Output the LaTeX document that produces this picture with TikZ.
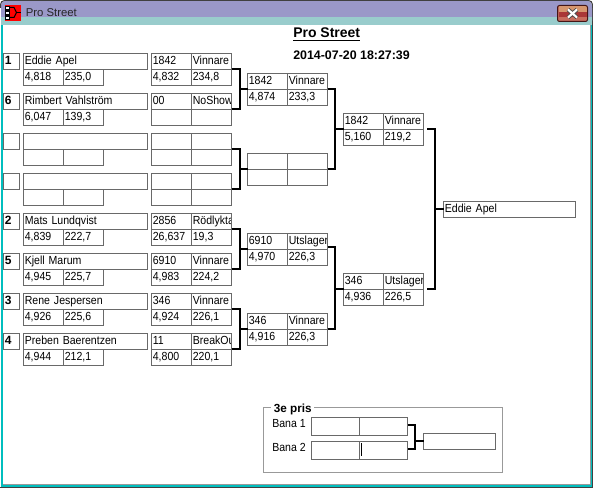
\documentclass[tikz,border=0pt]{standalone}
\usepackage{fontspec}
\setmainfont{Liberation Sans}
\newfontfamily\cellfamily[FakeStretch=0.9]{Liberation Sans}
\usetikzlibrary{calc}

\begin{document}
\begin{tikzpicture}[x=0.75pt,y=-0.75pt]
  \definecolor{barlilac}{RGB}{154,152,200}
  \definecolor{barteal}{RGB}{153,204,204}
  \definecolor{edgeteal}{RGB}{0,190,190}
  \definecolor{cellgray}{RGB}{105,105,105}
  \definecolor{framegray}{RGB}{153,153,153}
  \definecolor{closeorange}{RGB}{214,150,110}
  \definecolor{closered}{RGB}{170,55,55}
  \definecolor{closepink}{RGB}{200,110,95}

  \tikzset{
    cell/.style={draw=cellgray,line width=0.75pt,anchor=north west,inner xsep=1pt,inner ysep=0pt,outer sep=0pt,
      minimum height=12pt,text width=#1,align=left,text height=6.7pt,text depth=1.5pt,font=\cellfamily\fontsize{8.8}{10}\selectfont},
    cutcell/.style={cell=28pt,path picture={
      \node[anchor=west,inner sep=0pt,text height=6.7pt,text depth=1.5pt,font=\cellfamily\fontsize{8.8}{10}\selectfont]
        at ([xshift=1pt]path picture bounding box.west) {#1};}},
    seedcell/.style={cell=10pt,font=\bfseries\fontsize{9}{10}\selectfont},
    tallcell/.style={cell=#1,minimum height=13.5pt},
    bracket/.style={draw=black,line width=1.5pt},
    plainlabel/.style={anchor=base west,inner sep=0pt,font=\cellfamily\fontsize{8.8}{10}\selectfont}
  }

  % ---------------- Window ----------------
  \useasboundingbox (0,0) rectangle (593,488);
  \fill[white] (0,0) rectangle (593,488);
  \fill[edgeteal] (1,17) rectangle (593,488);
  \fill[black!75] (0,487) rectangle (593,488);
  \fill[black!75] (592,4) rectangle (593,488);
  \fill[framegray] (2.5,25) rectangle (590.5,485);
  \fill[white] (3,25) rectangle (590,484);
  \fill[barlilac,rounded corners=3pt] (1,1) rectangle (592,25);
  \fill[barteal] (1,17) rectangle (592,25);
  \draw[black!75,line width=0.75pt,rounded corners=3pt] (0.5,8) -- (0.5,0.5) -- (592.5,0.5) -- (592.5,8);

  % Icon
  \fill[red] (5,5) rectangle (21,21);
  \fill[black] (5,6) rectangle (10,20);
  \fill[white] (6,7) rectangle (9,9);
  \fill[white] (6,12) rectangle (9,14);
  \fill[white] (6,17) rectangle (9,19);
  \draw[black,line width=0.75pt] (10,7.5) -- (14,7.5) -- (16.5,12.5) -- (14,17.5) -- (10,17.5);
  \draw[black,line width=0.75pt] (16.5,12.5) -- (20.5,12.5);
  \node[plainlabel,font=\fontsize{8.5}{10}\selectfont,text=black!85] (wintitle) at (25.5,17) {Pro Street};

  % Close button
  \fill[closepink,rounded corners=1.5pt] (557.5,5.5) rectangle (587.5,21.5);
  \fill[closeorange] (558.5,6.5) rectangle (586.5,12);
  \fill[closered] (558.5,12) rectangle (586.5,17);
  \draw[black!60!closered,line width=0.75pt,rounded corners=1.5pt] (557.5,5.5) rectangle (587.5,21.5);
  \draw[black!70,line width=3pt] (568,9.5) -- (577,17.5) (577,9.5) -- (568,17.5);
  \draw[white,line width=1.6pt] (568,9.5) -- (577,17.5) (577,9.5) -- (568,17.5);

  % Headings
  \node[anchor=base west,inner sep=0pt,font=\bfseries\fontsize{10.5}{12}\selectfont] (heading) at (293,38) {\underline{Pro Street}};
  \node[anchor=base west,inner sep=0pt,font=\bfseries\fontsize{9.3}{12}\selectfont] (stamp) at (293,60) {2014-07-20 18:27:39};

  % ---------------- First round ----------------
  \begin{scope}[shift={(0,53.5)}]
    \node[seedcell] (seedA) at (3.5,0) {1};
    \node[cell=91pt] (nameA) at (23.5,0) {Eddie Apel};
    \node[cell=28pt] (timeA) at (23.5,16) {4,818};
    \node[cell=28pt] (speedA) at (63.5,16) {235,0};
    \node[cell=28pt] (numA) at (151.5,0) {1842};
    \node[cell=28pt] (resA) at (191.5,0) {Vinnare};
    \node[cell=28pt] (etA) at (151.5,16) {4,832};
    \node[cell=28pt] (mphA) at (191.5,16) {234,8};
  \end{scope}
  \begin{scope}[shift={(0,93.5)}]
    \node[seedcell] (seedB) at (3.5,0) {6};
    \node[cell=91pt] (nameB) at (23.5,0) {Rimbert Vahlström};
    \node[cell=28pt] (timeB) at (23.5,16) {6,047};
    \node[cell=28pt] (speedB) at (63.5,16) {139,3};
    \node[cell=28pt] (numB) at (151.5,0) {00};
    \node[cutcell=NoShow] (resB) at (191.5,0) {};
    \node[cell=28pt] (etB) at (151.5,16) {};
    \node[cell=28pt] (mphB) at (191.5,16) {};
  \end{scope}
  \begin{scope}[shift={(0,133.5)}]
    \node[seedcell] (seedC) at (3.5,0) {};
    \node[cell=91pt] (nameC) at (23.5,0) {};
    \node[cell=28pt] (timeC) at (23.5,16) {};
    \node[cell=28pt] (speedC) at (63.5,16) {};
    \node[cell=28pt] (numC) at (151.5,0) {};
    \node[cell=28pt] (resC) at (191.5,0) {};
    \node[cell=28pt] (etC) at (151.5,16) {};
    \node[cell=28pt] (mphC) at (191.5,16) {};
  \end{scope}
  \begin{scope}[shift={(0,173.5)}]
    \node[seedcell] (seedD) at (3.5,0) {};
    \node[cell=91pt] (nameD) at (23.5,0) {};
    \node[cell=28pt] (timeD) at (23.5,16) {};
    \node[cell=28pt] (speedD) at (63.5,16) {};
    \node[cell=28pt] (numD) at (151.5,0) {};
    \node[cell=28pt] (resD) at (191.5,0) {};
    \node[cell=28pt] (etD) at (151.5,16) {};
    \node[cell=28pt] (mphD) at (191.5,16) {};
  \end{scope}
  \begin{scope}[shift={(0,213.5)}]
    \node[seedcell] (seedE) at (3.5,0) {2};
    \node[cell=91pt] (nameE) at (23.5,0) {Mats Lundqvist};
    \node[cell=28pt] (timeE) at (23.5,16) {4,839};
    \node[cell=28pt] (speedE) at (63.5,16) {222,7};
    \node[cell=28pt] (numE) at (151.5,0) {2856};
    \node[cutcell=Rödlykta] (resE) at (191.5,0) {};
    \node[cell=28pt] (etE) at (151.5,16) {26,637};
    \node[cell=28pt] (mphE) at (191.5,16) {19,3};
  \end{scope}
  \begin{scope}[shift={(0,253.5)}]
    \node[seedcell] (seedF) at (3.5,0) {5};
    \node[cell=91pt] (nameF) at (23.5,0) {Kjell Marum};
    \node[cell=28pt] (timeF) at (23.5,16) {4,945};
    \node[cell=28pt] (speedF) at (63.5,16) {225,7};
    \node[cell=28pt] (numF) at (151.5,0) {6910};
    \node[cell=28pt] (resF) at (191.5,0) {Vinnare};
    \node[cell=28pt] (etF) at (151.5,16) {4,983};
    \node[cell=28pt] (mphF) at (191.5,16) {224,2};
  \end{scope}
  \begin{scope}[shift={(0,293.5)}]
    \node[seedcell] (seedG) at (3.5,0) {3};
    \node[cell=91pt] (nameG) at (23.5,0) {Rene Jespersen};
    \node[cell=28pt] (timeG) at (23.5,16) {4,926};
    \node[cell=28pt] (speedG) at (63.5,16) {225,6};
    \node[cell=28pt] (numG) at (151.5,0) {346};
    \node[cell=28pt] (resG) at (191.5,0) {Vinnare};
    \node[cell=28pt] (etG) at (151.5,16) {4,924};
    \node[cell=28pt] (mphG) at (191.5,16) {226,1};
  \end{scope}
  \begin{scope}[shift={(0,333.5)}]
    \node[seedcell] (seedH) at (3.5,0) {4};
    \node[cell=91pt] (nameH) at (23.5,0) {Preben Baerentzen};
    \node[cell=28pt] (timeH) at (23.5,16) {4,944};
    \node[cell=28pt] (speedH) at (63.5,16) {212,1};
    \node[cell=28pt] (numH) at (151.5,0) {11};
    \node[cutcell=BreakOu] (resH) at (191.5,0) {};
    \node[cell=28pt] (etH) at (151.5,16) {4,800};
    \node[cell=28pt] (mphH) at (191.5,16) {220,1};
  \end{scope}

  % ---------------- Second round ----------------
  \node[cell=28pt] (numI) at (247.5,73.5) {1842};
  \node[cell=28pt] (resI) at (287.5,73.5) {Vinnare};
  \node[cell=28pt] (etI) at (247.5,89.5) {4,874};
  \node[cell=28pt] (mphI) at (287.5,89.5) {233,3};

  \node[cell=28pt] (numJ) at (247.5,153.5) {};
  \node[cell=28pt] (resJ) at (287.5,153.5) {};
  \node[cell=28pt] (etJ) at (247.5,169.5) {};
  \node[cell=28pt] (mphJ) at (287.5,169.5) {};

  \node[cell=28pt] (numK) at (247.5,233.5) {6910};
  \node[cutcell=Utslager] (resK) at (287.5,233.5) {};
  \node[cell=28pt] (etK) at (247.5,249.5) {4,970};
  \node[cell=28pt] (mphK) at (287.5,249.5) {226,3};

  \node[cell=28pt] (numL) at (247.5,313.5) {346};
  \node[cell=28pt] (resL) at (287.5,313.5) {Vinnare};
  \node[cell=28pt] (etL) at (247.5,329.5) {4,916};
  \node[cell=28pt] (mphL) at (287.5,329.5) {226,3};

  % ---------------- Semifinals and final ----------------
  \node[cell=28pt] (numM) at (343.5,113.5) {1842};
  \node[cell=28pt] (resM) at (383.5,113.5) {Vinnare};
  \node[cell=28pt] (etM) at (343.5,129.5) {5,160};
  \node[cell=28pt] (mphM) at (383.5,129.5) {219,2};

  \node[cell=28pt] (numN) at (343.5,273.5) {346};
  \node[cutcell=Utslager] (resN) at (383.5,273.5) {};
  \node[cell=28pt] (etN) at (343.5,289.5) {4,936};
  \node[cell=28pt] (mphN) at (383.5,289.5) {226,5};

  \node[cell=97pt] (nameO) at (443.5,201.5) {Eddie Apel};

  % Brackets
  \coordinate (joinAB) at (239.5,89.5);
  \coordinate (joinCD) at (239.5,169.5);
  \coordinate (joinEF) at (239.5,249.5);
  \coordinate (joinGH) at (239.5,329.5);
  \coordinate (joinIJ) at (335,129.5);
  \coordinate (joinKL) at (335,289.5);
  \coordinate (joinMN) at (435,209.5);
  \coordinate (stubM) at (427,129.5);
  \coordinate (stubN) at (427,289.5);

  \draw[bracket] (resA.south east) -| (joinAB) |- (resB.south east);
  \draw[bracket] (joinAB) -- (numI.south west);
  \draw[bracket] (resC.south east) -| (joinCD) |- (resD.south east);
  \draw[bracket] (joinCD) -- (numJ.south west);
  \draw[bracket] (resE.south east) -| (joinEF) |- (resF.south east);
  \draw[bracket] (joinEF) -- (numK.south west);
  \draw[bracket] (resG.south east) -| (joinGH) |- (resH.south east);
  \draw[bracket] (joinGH) -- (numL.south west);
  \draw[bracket] (resI.south east) -| (joinIJ) |- (resJ.south east);
  \draw[bracket] (joinIJ) -- (numM.south west);
  \draw[bracket] ([yshift=1.5pt]resK.south east) -| (joinKL) |- (resL.south east);
  \draw[bracket] (joinKL) -- (numN.south west);
  \draw[bracket] (stubM) -| (joinMN) |- (stubN);
  \draw[bracket] (joinMN) -- (nameO.west);

  % ---------------- 3e pris ----------------
  \draw[framegray,line width=0.75pt] (263.5,407.5) rectangle (502.5,472.5);
  \node[anchor=base west,inner xsep=2pt,inner ysep=1pt,fill=white,font=\bfseries\fontsize{8.8}{10}\selectfont] (prize) at (271,412) {3e pris};
  \node[plainlabel] (laneP) at (272,427.5) {Bana 1};
  \node[plainlabel] (laneQ) at (272,451.5) {Bana 2};

  \node[tallcell=34pt] (leftP) at (311.5,417.5) {};
  \node[tallcell=34pt] (rightP) at (359.5,417.5) {};
  \node[tallcell=34pt] (leftQ) at (311.5,441.5) {};
  \node[tallcell=34pt] (rightQ) at (359.5,441.5) {};
  \node[cell=52pt] (winR) at (423.5,433.5) {};

  \coordinate (joinPQ) at (415,441);
  \draw[bracket] ([yshift=1.3pt]rightP.east) -| (joinPQ) |- ([yshift=1.1pt]rightQ.east);
  \draw[bracket] (joinPQ) -- (winR.west |- joinPQ);
  \draw[black,line width=0.75pt] (361.5,443) -- (361.5,456);
\end{tikzpicture}
\end{document}
